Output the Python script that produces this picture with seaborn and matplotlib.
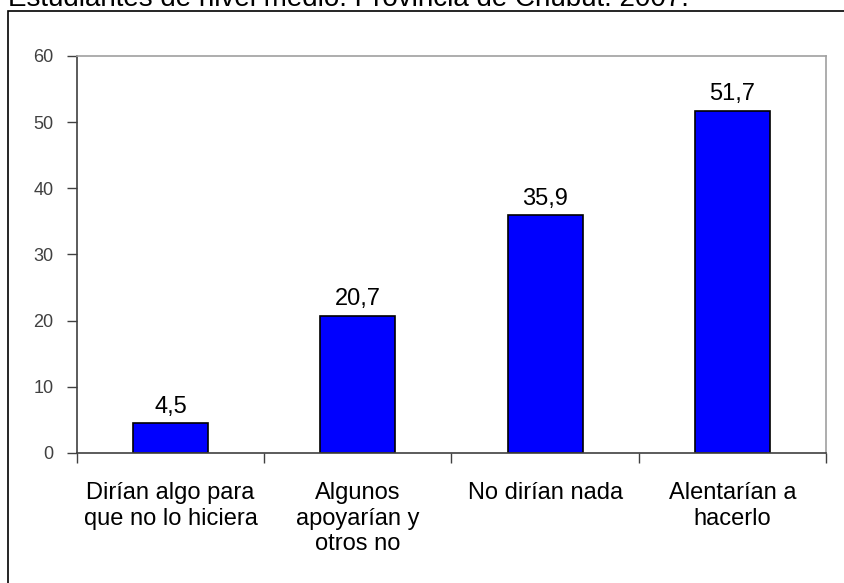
import matplotlib
matplotlib.use("Agg")
import matplotlib.pyplot as plt
import seaborn as sns
import pandas as pd
from matplotlib.patches import Rectangle

categorias = ["Dirían algo para\nque no lo hiciera", "Algunos\napoyarían y\notros no",
              "No dirían nada", "Alentarían a\nhacerlo"]
valores = [4.5, 20.7, 35.9, 51.7]
etiquetas = ["4,5", "20,7", "35,9", "51,7"]
titulo = "Estudiantes de nivel medio. Provincia de Chubut. 2007."

sns.set_theme(style="white")
plt.rcParams["font.family"] = ["Liberation Sans", "DejaVu Sans"]

df = pd.DataFrame({"cat": categorias, "val": valores})

fig = plt.figure(figsize=(8.44, 5.83), dpi=100)
ax = fig.add_axes([0.0912, 0.223, 0.8875, 0.681])

sns.barplot(data=df, x="cat", y="val", color="#0000FF", saturation=1,
            width=0.4, edgecolor="black", linewidth=1.2, ax=ax)

for i, (v, t) in enumerate(zip(valores, etiquetas)):
    ax.text(i, v + 1.6, t, ha="center", va="baseline", fontsize=17, color="black")

ax.set_xlim(-0.5, 3.5)
ax.set_ylim(0, 60)
ax.set_yticks(range(0, 61, 10))
ax.set_xlabel("")
ax.set_ylabel("")
for lab in ax.get_xticklabels():
    lab.set_linespacing(1.2)
ax.set_xticks([-0.5, 0.5, 1.5, 2.5, 3.5], minor=True)
ax.tick_params(axis="x", which="major", length=0, pad=21, labelsize=17, labelcolor="black")
ax.tick_params(axis="x", which="minor", length=7, width=1, color="#404040", direction="out", bottom=True)
ax.tick_params(axis="y", length=7, width=1, color="#404040", direction="out", left=True,
               labelsize=13, labelcolor="#404040", pad=10)

for s in ["left", "bottom"]:
    ax.spines[s].set_color("#404040")
    ax.spines[s].set_linewidth(1.2)
for s in ["top", "right"]:
    ax.spines[s].set_color("#a0a0a0")
    ax.spines[s].set_linewidth(1.2)

# marco exterior
fig.patches.append(Rectangle((8 / 844, -0.05), 1.0, 1 - 10.5 / 583 + 0.05,
                             transform=fig.transFigure, fill=False,
                             edgecolor="black", linewidth=1.2))

fig.text(8 / 844, 1 - 6 / 583, titulo, ha="left", va="baseline", fontsize=20, color="black")

fig.savefig("out.png", dpi=100)
